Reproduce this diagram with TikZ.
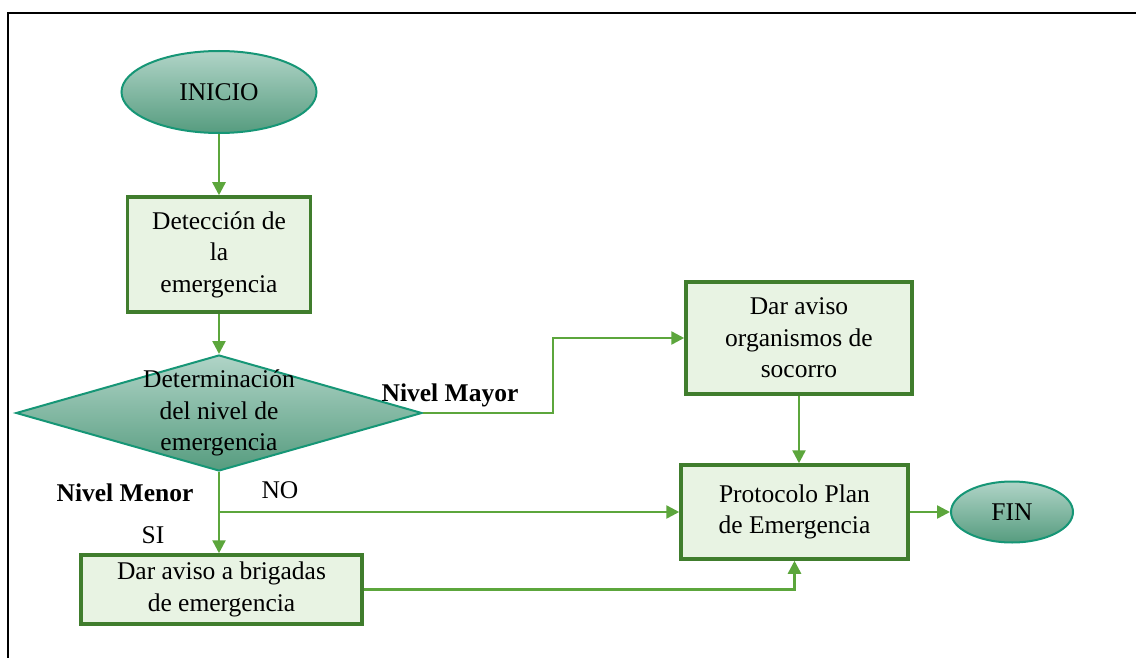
\documentclass[tikz,border=0pt]{standalone}
\usepackage{fontspec}
\setmainfont{Liberation Serif}
\usetikzlibrary{positioning, calc, shapes, arrows.meta}

\definecolor{verdeborde}{RGB}{64,125,45}
\definecolor{verdefondo}{RGB}{232,243,227}
\definecolor{verdeflecha}{RGB}{92,166,60}
\definecolor{tealborde}{RGB}{22,150,118}
\definecolor{tealclaro}{RGB}{176,212,199}
\definecolor{tealoscuro}{RGB}{86,156,127}

\begin{document}
\begin{tikzpicture}[x=1pt, y=-1pt, >={Triangle[length=13pt,width=13pt]}, on grid,
					font=\fontsize{25.5}{31.5}\selectfont,
					caja/.style={rectangle, draw=verdeborde, line width=3.5pt, fill=verdefondo,
						align=center, inner sep=0pt},
					terminal/.style={ellipse, draw=tealborde, line width=2pt, top color=tealclaro,
						bottom color=tealoscuro, inner sep=0pt},
					rombo/.style={diamond, draw=tealborde, line width=2pt, top color=tealclaro,
						bottom color=tealoscuro, inner sep=0pt, aspect=3.5},
					flecha/.style={draw=verdeflecha, line width=2.5pt},
					etiqueta/.style={font=\fontsize{25.5}{31.5}\selectfont\bfseries} ]
					\useasboundingbox (0,0) rectangle (1136,658);
					\draw[line width=1.5pt] (8,658) -- (8,13) -- (1136,13);

					\node[terminal, minimum width=195pt, minimum height=82pt] (inicio) at (219,92) {INICIO};
					\node[caja, minimum width=183pt, minimum height=115pt] (deteccion) [below=162.5pt of inicio]
						{Detección de\\la\\emergencia};
					\node[rombo, minimum width=406pt, minimum height=116pt,
						label={[align=center]center:Determinación\\del nivel de\\emergencia}] (nivel)
						[below=158.5pt of deteccion] {};
					\node[caja, minimum width=281pt, minimum height=69pt] (brigadas) [below=176.5pt of nivel, xshift=2.5pt]
						{Dar aviso a brigadas\\de emergencia};
					\node[caja, minimum width=226pt, minimum height=112pt] (organismos) at (799,338)
						{Dar aviso\\organismos de\\socorro};
					\node[caja, minimum width=227pt, minimum height=94pt] (protocolo) [below=174pt of organismos, xshift=-4.5pt]
						{Protocolo Plan\\de Emergencia};
					\node[terminal, minimum width=122pt, minimum height=61pt] (fin) [right=217.5pt of protocolo] {FIN};

					%Etiquetas de las salidas:
					\node[etiqueta] (mayor) at (450,395) {Nivel Mayor};
					\node[etiqueta] (menor) at (125,493) {Nivel Menor};
					\node (no) at (280,490) {NO};
					\node (si) at (153,535) {SI};

					\coordinate (codo) at (553,413);
					\coordinate (cruce) at (nivel.south |- protocolo.west);

					\draw[flecha, ->] (inicio) -- (deteccion);
					\draw[flecha, ->] (deteccion) -- (nivel);
					\draw[flecha, ->] (nivel.south) -- (nivel.south |- brigadas.north);
					\draw[flecha, ->] (cruce) -- (protocolo.west);
					\draw[flecha, ->] (organismos.south) -- (organismos.south |- protocolo.north);
					\draw[flecha, ->] (protocolo) -- (fin);
					\draw[flecha, ->] (nivel.east) -- (codo) |- (organismos.west);
					\draw[flecha, ->] (brigadas.east) -| (protocolo.south);
				\end{tikzpicture}
\end{document}
